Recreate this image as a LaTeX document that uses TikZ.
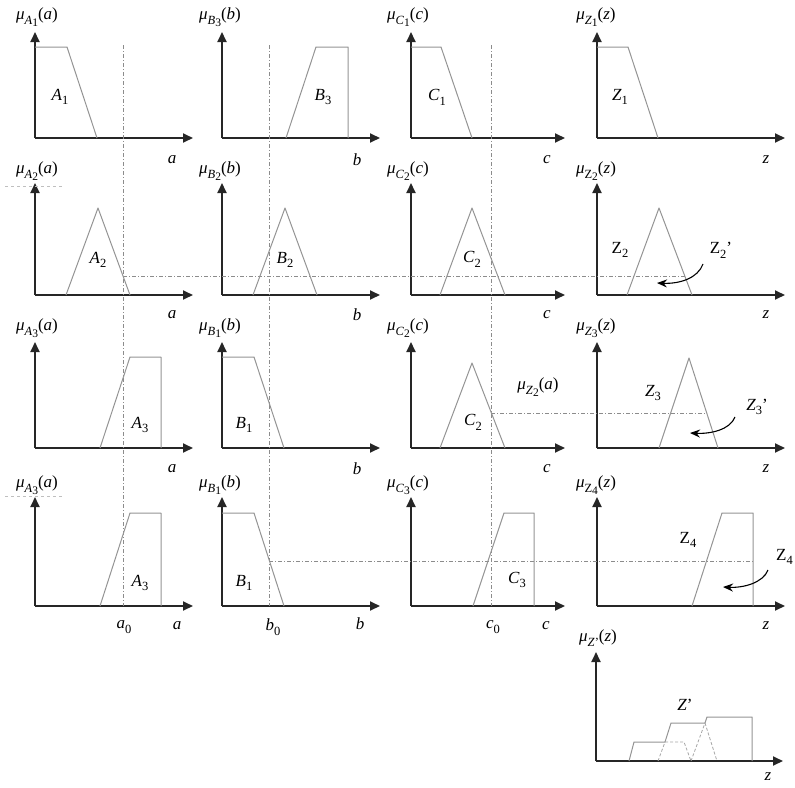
\documentclass[tikz,border=0pt]{standalone}
\usepackage{fontspec}
\setmainfont{Liberation Serif}
\usetikzlibrary{arrows.meta}
% subscript and second-level subscript
\newcommand\lsub[1]{\raisebox{-0.28em}{\fontsize{12.5}{12.5}\selectfont #1}}
\newcommand\llsub[1]{\raisebox{-0.18em}{\fontsize{11.5}{11.5}\selectfont #1}}
% membership function label  mu_{X_i}(x)
\newcommand\memb[3]{\textit{μ}\lsub{\textit{#1}\llsub{#2}}(\textit{#3})}
% fuzzy set names
\newcommand\fset[2]{\textit{#1}\lsub{#2}}
\newcommand\rset[2]{#1\lsub{#2}}
\begin{document}
\begin{tikzpicture}[x=1pt,y=-1pt,
  font=\fontsize{17}{20}\selectfont,
  every node/.style={inner sep=0pt},
  axis/.style={line width=1.8pt,draw=black!85,-{Triangle[length=10pt,width=9pt]}},
  mf/.style={draw=black!42,line width=1pt,line join=round},
  guide/.style={draw=black!45,line width=0.8pt,dash pattern=on 4pt off 2pt on 1pt off 2pt},
  hidden/.style={draw=black!35,line width=0.8pt,dash pattern=on 3pt off 2pt},
  faint/.style={draw=black!25,line width=0.6pt,dash pattern=on 3pt off 3pt},
  pointer/.style={line width=1.1pt,draw=black,-{Stealth[length=10pt,width=8pt]}}]
\useasboundingbox (0,0) rectangle (795,787);

% ---------- axes of the 4x4 rule grid ----------
\foreach \r/\yo/\yt in {1/138/32,2/295/183,3/448/342,4/606/497}{
  \foreach \c/\xo/\xe in {A/35/193,B/222/380,C/411/565,Z/597/785}{
    \coordinate (o\c\r) at (\xo,\yo);
    \coordinate (t\c\r) at (\xo,\yt);
    \coordinate (e\c\r) at (\xe,\yo);
    \draw[axis] (o\c\r) -- (t\c\r);
    \draw[axis] (o\c\r) -- (e\c\r);
  }
}
% axes of the aggregated output
\coordinate (oZ5) at (596,761);
\coordinate (tZ5) at (596,652);
\coordinate (eZ5) at (783,761);
\draw[axis] (oZ5) -- (tZ5);
\draw[axis] (oZ5) -- (eZ5);

% ---------- crisp input guides ----------
\coordinate (a0top) at (123,45); \coordinate (a0bot) at (123,606);
\coordinate (b0top) at (269,45); \coordinate (b0bot) at (269,606);
\coordinate (c0top) at (491,45); \coordinate (c0bot) at (491,606);
\draw[guide] (a0top) -- (a0bot);
\draw[guide] (b0top) -- (b0bot);
\draw[guide] (c0top) -- (c0bot);

% firing levels carried to the consequents
\coordinate (h2a) at (123,276); \coordinate (h2b) at (685,276);
\coordinate (h3a) at (491,413); \coordinate (h3b) at (707,413);
\coordinate (h4a) at (269,561); \coordinate (h4b) at (753,561);
\draw[guide] (h2a) -- (h2b);
\draw[guide] (h3a) -- (h3b);
\draw[guide] (h4a) -- (h4b);

% ---------- row 1 ----------
\draw[mf] (35,47) -- (67,47) -- (97,138);
\draw[mf] (286,138) -- (316,47) -- (348,47) -- (348,138);
\draw[mf] (411,47) -- (441,47) -- (472,138);
\draw[mf] (597,47) -- (628,47) -- (658,138);
% ---------- row 2 ----------
\draw[mf] (66,295) -- (98,208) -- (130,295);
\draw[mf] (253,295) -- (285,208) -- (317,295);
\draw[mf] (440,295) -- (472,208) -- (505,295);
\draw[mf] (627,295) -- (659,208) -- (692,295);
% ---------- row 3 ----------
\draw[mf] (100,448) -- (130,357) -- (161,357) -- (161,448);
\draw[mf] (222,357) -- (254,357) -- (284,448);
\draw[mf] (440,448) -- (472,363) -- (505,448);
\draw[mf] (659,448) -- (689,358) -- (718,448);
% ---------- row 4 ----------
\draw[mf] (100,606) -- (130,513) -- (161,513) -- (161,606);
\draw[mf] (222,513) -- (254,513) -- (284,606);
\draw[mf] (473,606) -- (504,513) -- (534,513) -- (534,606);
\draw[mf] (692,606) -- (722,513) -- (753,513) -- (753,606);

% ---------- aggregated output ----------
\draw[mf] (629,761) -- (634,742) -- (665,742) -- (671,723) -- (705,723)
          -- (707,717) -- (752,717) -- (752,761);
\draw[hidden] (665,742) -- (684,742) -- (691,761);
\draw[hidden] (658,761) -- (665,742);
\draw[hidden] (705,723) -- (717,761);
\draw[hidden] (691,761) -- (705,723);

% ---------- clipped-consequent pointers ----------
\coordinate (p2s) at (703,264); \coordinate (p2e) at (657,283);
\coordinate (p3s) at (735,417); \coordinate (p3e) at (690,433);
\coordinate (p4s) at (768,570); \coordinate (p4e) at (723,587);
\draw[pointer] (p2s) .. controls (698,278) and (680,284) .. (p2e);
\draw[pointer] (p3s) .. controls (730,430) and (710,434) .. (p3e);
\draw[pointer] (p4s) .. controls (763,583) and (743,588) .. (p4e);

% ---------- axis titles ----------
\node (m11) at (37,17)  {\memb{A}{1}{a}};
\node (m12) at (220,17) {\memb{B}{3}{b}};
\node (m13) at (408,17) {\memb{C}{1}{c}};
\node (m14) at (596,17) {\memb{Z}{1}{z}};
\node (m21) at (37,171)  {\memb{A}{2}{a}};
\node (m22) at (220,171) {\memb{B}{2}{b}};
\node (m23) at (408,171) {\memb{C}{2}{c}};
\node (m24) at (596,171) {\memb{\textup{Z}}{2}{z}};
\node (m31) at (37,328)  {\memb{A}{3}{a}};
\node (m32) at (220,328) {\memb{B}{1}{b}};
\node (m33) at (408,328) {\memb{C}{2}{c}};
\node (m34) at (596,328) {\memb{Z}{3}{z}};
\node (m41) at (37,485)  {\memb{A}{3}{a}};
\node (m42) at (220,485) {\memb{B}{1}{b}};
\node (m43) at (408,485) {\memb{C}{3}{c}};
\node (m44) at (596,485) {\memb{\textup{Z}}{4}{z}};
\node (m54) at (598,638) {\textit{μ}\lsub{\textit{Z}’}(\textit{z})};
\draw[faint] (5,186) -- (62,186);
\draw[faint] (5,496) -- (62,496);

% ---------- variable names under the axes ----------
\foreach \r/\y in {1/160,2/315,3/469}{
  \node (va\r) at (172,\y) {\textit{a}};
  \node (vb\r) at (357,\y) {\textit{b}};
  \node (vc\r) at (547,\y) {\textit{c}};
  \node (vz\r) at (766,\y) {\textit{z}};
}
\node (va4) at (177,626) {\textit{a}};
\node (vb4) at (360,624) {\textit{b}};
\node (vc4) at (546,626) {\textit{c}};
\node (vz4) at (766,626) {\textit{z}};
\node (vz5) at (768,777) {\textit{z}};
\node (a0) at (124,627) {\textit{a}\lsub{0}};
\node (b0) at (273,627) {\textit{b}\lsub{0}};
\node (c0) at (493,627) {\textit{c}\lsub{0}};

% ---------- set names ----------
\node (A1) at (60,97)  {\fset{A}{1}};
\node (B3) at (323,97) {\fset{B}{3}};
\node (C1) at (437,97) {\fset{C}{1}};
\node (Z1) at (620,97) {\fset{Z}{1}};
\node (A2) at (98,260)  {\fset{A}{2}};
\node (B2) at (285,260) {\fset{B}{2}};
\node (C2) at (472,259) {\fset{C}{2}};
\node (Z2) at (620,250) {\rset{Z}{2}};
\node (Z2p) at (721,250) {\rset{Z}{2}’};
\node (A3) at (140,425) {\fset{A}{3}};
\node (B1) at (244,425) {\fset{B}{1}};
\node (C2b) at (473,422) {\fset{C}{2}};
\node (mz) at (538,387) {\memb{Z}{2}{a}};
\node (Z3) at (653,393) {\fset{Z}{3}};
\node (Z3p) at (757,407) {\fset{Z}{3}’};
\node (A3b) at (140,583) {\fset{A}{3}};
\node (B1b) at (244,583) {\fset{B}{1}};
\node (C3) at (517,580) {\fset{C}{3}};
\node (Z4) at (688,540) {\rset{Z}{4}};
\node[anchor=west] (Z4p) at (776,557) {\rset{Z}{4}};
\node (Zp) at (685,705) {\textit{Z}’};
\end{tikzpicture}
\end{document}
